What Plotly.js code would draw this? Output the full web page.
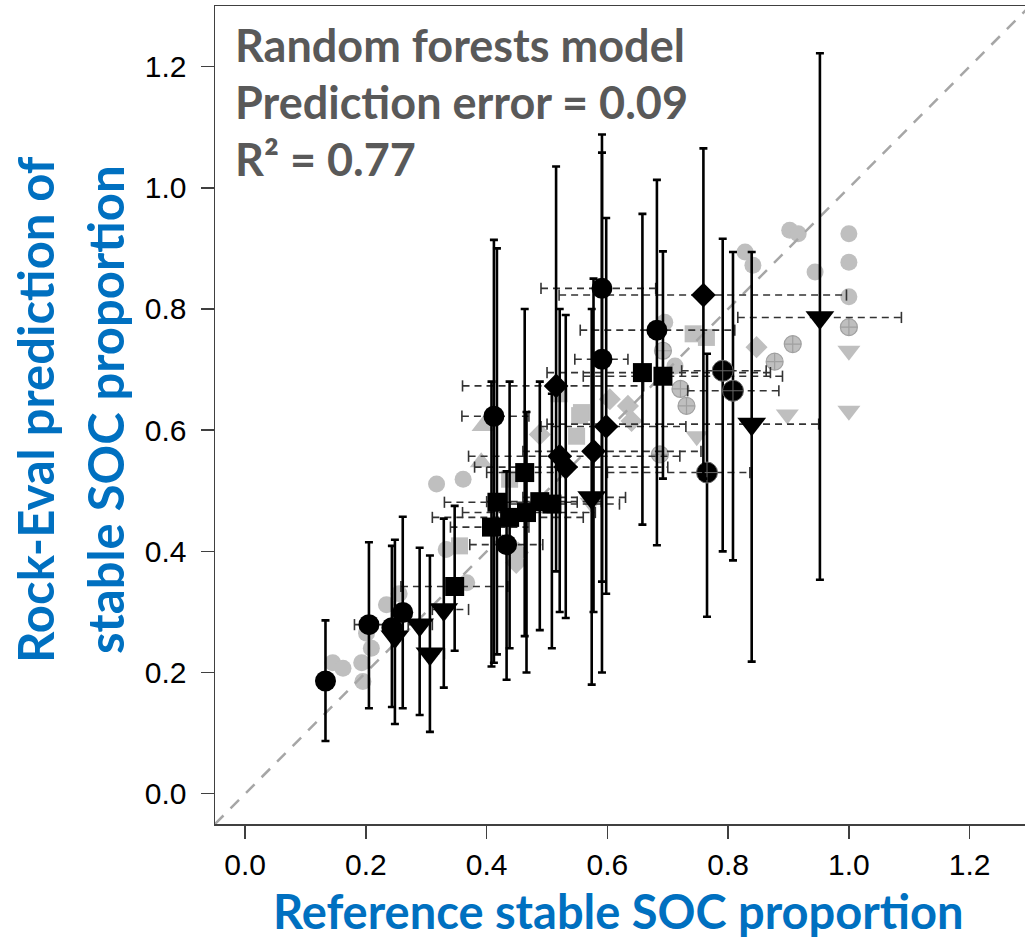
<!DOCTYPE html>
<html><head><meta charset="utf-8">
<script src="https://cdn.plot.ly/plotly-3.0.1.min.js"></script>
<style>html,body{margin:0;padding:0;overflow:hidden;background:#fff}#chart{width:1030px;height:940px}</style>
</head><body><div id="chart"></div>
<script>
// axis settings
const xRange = [-0.05, 1.30];
const yRange = [-0.05, 1.30];
const tickVals = [0, 0.2, 0.4, 0.6, 0.8, 1.0, 1.2];
const tickText = ['0.0', '0.2', '0.4', '0.6', '0.8', '1.0', '1.2'];

// black (validation) points with error bars
const circX   = [0.133, 0.205, 0.243, 0.261, 0.412, 0.433, 0.591, 0.591, 0.682];
const circY   = [0.186, 0.279, 0.274, 0.299, 0.623, 0.411, 0.834, 0.717, 0.765];
const circYlo = [0.087, 0.141, 0.143, 0.141, 0.216, 0.188, 0.350, 0.200, 0.410];
const circYhi = [0.286, 0.415, 0.409, 0.457, 0.914, 0.532, 1.088, 1.058, 1.013];
const circXlo = [null, 0.181, null, null, 0.359, 0.372, 0.490, 0.546, 0.555];
const circXhi = [null, 0.235, null, null, 0.470, 0.493, 0.680, 0.634, 0.811];

const ccX   = [0.765, 0.791, 0.808];
const ccY   = [0.530, 0.698, 0.665];
const ccYlo = [0.292, 0.400, 0.385];
const ccYhi = [0.726, 0.916, 0.894];
const ccXlo = [0.600, 0.723, 0.733];
const ccXhi = [0.836, 0.863, 0.884];

const dmX   = [0.515, 0.759, 0.521, 0.531, 0.577, 0.598];
const dmY   = [0.673, 0.823, 0.557, 0.539, 0.565, 0.606];
const dmYlo = [0.367, 0.520, 0.300, 0.290, 0.300, 0.330];
const dmYhi = [1.035, 1.065, 0.800, 0.790, 0.850, 0.950];
const dmXlo = [0.360, 0.520, 0.370, 0.380, 0.460, 0.490];
const dmXhi = [0.660, 0.996, 0.720, 0.700, 0.755, 0.730];

const sqX   = [0.347, 0.463, 0.417, 0.408, 0.438, 0.466, 0.488, 0.508, 0.658, 0.692];
const sqY   = [0.342, 0.530, 0.481, 0.440, 0.456, 0.464, 0.482, 0.478, 0.695, 0.689];
const sqYlo = [0.236, 0.260, 0.230, 0.210, 0.240, 0.200, 0.270, 0.240, 0.444, 0.520];
const sqYhi = [0.475, 0.800, 0.900, 0.680, 0.680, 0.630, 0.680, 0.660, 0.957, 0.895];
const sqXlo = [0.258, 0.400, 0.330, 0.340, 0.310, 0.360, 0.400, 0.420, 0.500, 0.560];
const sqXhi = [0.435, 0.530, 0.550, 0.470, 0.560, 0.580, 0.590, 0.620, 0.870, 0.890];

const trX   = [0.248, 0.289, 0.306, 0.329, 0.574, 0.839, 0.952];
const trY   = [0.259, 0.279, 0.231, 0.304, 0.489, 0.610, 0.786];
const trYlo = [0.115, 0.130, 0.102, 0.175, 0.180, 0.218, 0.353];
const trYhi = [0.419, 0.406, 0.393, 0.454, 0.800, 0.894, 1.222];
const trXlo = [null, 0.270, 0.290, 0.310, 0.460, 0.500, 0.816];
const trXhi = [null, 0.310, 0.330, 0.370, 0.630, 0.950, 1.087];

// grey (calibration) points
const gCircX = [0.145, 0.162, 0.193, 0.195, 0.201, 0.209, 0.234, 0.255, 0.317, 0.361, 0.333, 0.367, 0.695, 0.712, 0.828, 0.841, 0.902, 0.916, 0.944, 1.0, 1.0, 1.0];
const gCircY = [0.216, 0.207, 0.216, 0.185, 0.265, 0.240, 0.312, 0.330, 0.511, 0.519, 0.403, 0.348, 0.778, 0.706, 0.894, 0.872, 0.930, 0.924, 0.861, 0.924, 0.877, 0.820];
const gCcX = [1.0, 0.907, 0.877, 0.692, 0.721, 0.731, 0.687];
const gCcY = [0.770, 0.742, 0.713, 0.731, 0.668, 0.640, 0.560];
const gDmX = [0.847, 0.634, 0.640, 0.604, 0.488, 0.452, 0.449];
const gDmY = [0.737, 0.640, 0.615, 0.651, 0.593, 0.398, 0.381];
const gSqX = [0.742, 0.764, 0.557, 0.549, 0.554, 0.438, 0.355, 0.520];
const gSqY = [0.759, 0.753, 0.629, 0.590, 0.624, 0.519, 0.409, 0.660];
const gTdX = [1.0, 1.0, 0.898, 0.748, 0.573];
const gTdY = [0.731, 0.632, 0.626, 0.590, 0.480];
const gTuX = [0.394, 0.391];
const gTuY = [0.607, 0.547];

const annLines = ['Random forests model', 'Prediction error = 0.09', 'R² = 0.77'];
const xTitle = 'Reference stable SOC proportion';
const yTitleLines = ['Rock-Eval prediction of', 'stable SOC proportion'];

const GREY = '#bfbfbf';
const traces = [];

function greyTrace(x, y, symbol, size, lineCol) {
  return {type: 'scatter', mode: 'markers', x: x, y: y, hoverinfo: 'skip', showlegend: false,
    marker: {symbol: symbol, size: size, color: GREY, line: {width: lineCol ? 1.2 : 0, color: lineCol || GREY}}};
}
traces.push(greyTrace(gCircX, gCircY, 'circle', 17));
traces.push(greyTrace(gCcX, gCcY, 'circle-cross', 17, '#a0a0a0'));
traces.push(greyTrace(gDmX, gDmY, 'diamond', 17));
traces.push(greyTrace(gSqX, gSqY, 'square', 17));
traces.push(greyTrace(gTdX, gTdY, 'triangle-down', 20));
traces.push(greyTrace(gTuX, gTuY, 'triangle-up', 20));

// 1:1 line
traces.push({type: 'scatter', mode: 'lines', x: xRange, y: yRange, hoverinfo: 'skip', showlegend: false,
  line: {color: '#a6a6a6', width: 2.5, dash: '12px,10px'}});

// horizontal dashed error bars
const groups = [
  [circX, circY, circYlo, circYhi, circXlo, circXhi, 'circle', 21, null],
  [ccX, ccY, ccYlo, ccYhi, ccXlo, ccXhi, 'circle-cross', 21, '#666'],
  [dmX, dmY, dmYlo, dmYhi, dmXlo, dmXhi, 'diamond', 19, null],
  [sqX, sqY, sqYlo, sqYhi, sqXlo, sqXhi, 'square', 19, null],
  [trX, trY, trYlo, trYhi, trXlo, trXhi, 'triangle-down', 25, null]
];
const hx = [], hy = [], capX = [], capY = [];
groups.forEach(g => {
  const [x, y, ylo, yhi, xlo, xhi] = g;
  for (let i = 0; i < x.length; i++) {
    if (xlo[i] === null) continue;
    hx.push(xlo[i], xhi[i], null); hy.push(y[i], y[i], null);
    capX.push(xlo[i], xhi[i]); capY.push(y[i], y[i]);
  }
});
traces.push({type: 'scatter', mode: 'lines', x: hx, y: hy, hoverinfo: 'skip', showlegend: false,
  line: {color: '#333', width: 1.6, dash: '7px,5px'}});
traces.push({type: 'scatter', mode: 'markers', x: capX, y: capY, hoverinfo: 'skip', showlegend: false,
  marker: {symbol: 'line-ns-open', size: 8, color: '#333', line: {color: '#333', width: 1.6}}});

groups.forEach(g => {
  const [x, y, ylo, yhi, xlo, xhi, sym, size, lc] = g;
  traces.push({type: 'scatter', mode: 'markers', x: x, y: y, hoverinfo: 'skip', showlegend: false,
    error_y: {type: 'data', symmetric: false,
      array: yhi.map((v, i) => v - y[i]), arrayminus: ylo.map((v, i) => y[i] - v),
      color: '#000', thickness: 2.6, width: 4},
    marker: {symbol: sym, size: size, color: '#000', line: {width: lc ? 1 : 0, color: lc || '#000'}}});
});

const W = 1030, H = 940, L = 215, T = 6, B = 116;
const PW = W - L, PH = H - T - B;
const px = v => (v - L) / PW;
const py = v => (H - B - v) / PH;

const annotations = [];
annLines.forEach((t, i) => {
  annotations.push({text: t, xref: 'paper', yref: 'paper', x: px(234), y: py(45 + i * 57),
    xanchor: 'left', yanchor: 'middle', showarrow: false, borderpad: 0,
    font: {family: 'Lato', size: 45, color: '#595959', weight: 700}});
});
annotations.push({text: xTitle, xref: 'paper', yref: 'paper', x: px(618), y: py(910.5),
  xanchor: 'center', yanchor: 'middle', showarrow: false, borderpad: 0,
  font: {family: 'Lato', size: 47, color: '#0070c0', weight: 700}});
yTitleLines.forEach((t, i) => {
  annotations.push({text: t, xref: 'paper', yref: 'paper', x: px(35 + i * 70), y: py(410),
    xanchor: 'center', yanchor: 'middle', textangle: -90, showarrow: false, borderpad: 0,
    font: {family: 'Lato', size: 49, color: '#0070c0', weight: 700}});
});

const axisCommon = {showgrid: false, zeroline: false, showline: true, linecolor: '#404040', linewidth: 1.5,
  ticks: 'outside', ticklen: 13, tickwidth: 1.5, tickcolor: '#404040', mirror: true,
  tickvals: tickVals, ticktext: tickText,
  tickfont: {family: 'Liberation Sans', size: 30, color: '#000'}};

const layout = {
  width: W, height: H, margin: {l: L, r: 0, t: T, b: B},
  paper_bgcolor: '#fff', plot_bgcolor: '#fff', showlegend: false,
  xaxis: Object.assign({}, axisCommon, {range: xRange, ticklabelstandoff: 0}),
  yaxis: Object.assign({}, axisCommon, {range: yRange, ticklabelstandoff: 8}),
  annotations: annotations
};

Plotly.newPlot('chart', traces, layout, {staticPlot: true});
</script></body></html>
